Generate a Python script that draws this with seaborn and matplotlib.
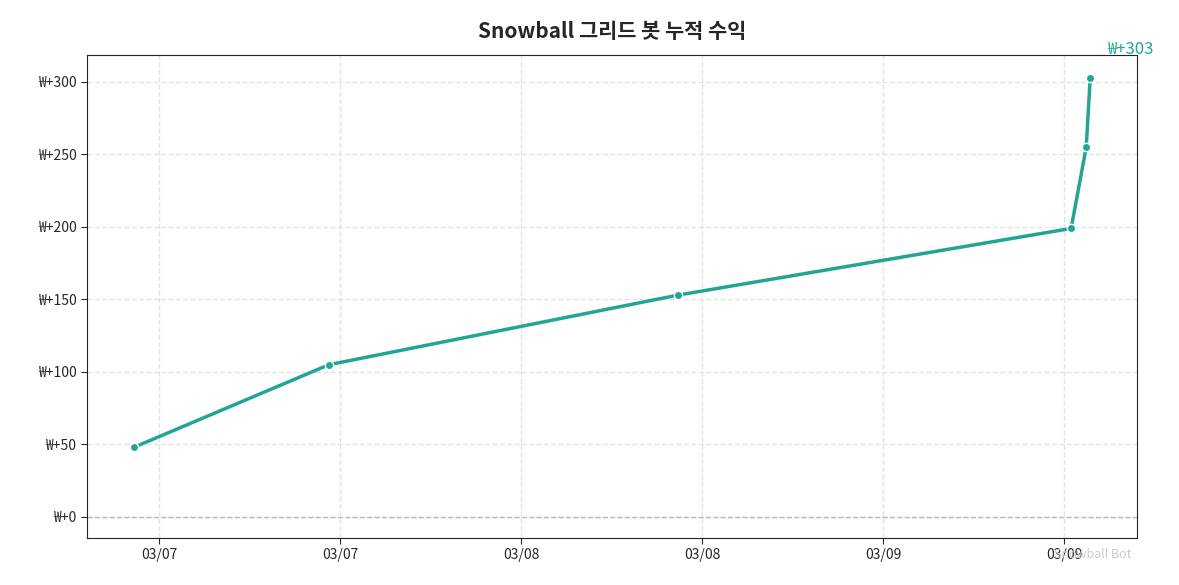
import matplotlib
matplotlib.use("Agg")
import matplotlib.pyplot as plt
import matplotlib.dates as mdates
import seaborn as sns
import pandas as pd

times = ["2025-03-06 22:20", "2025-03-07 11:16", "2025-03-08 10:24",
         "2025-03-09 12:28", "2025-03-09 13:28", "2025-03-09 13:44"]
profits = [48, 105, 153, 199, 255, 303]

sns.set_style("white")
plt.rcParams['font.family'] = ['Noto Sans CJK KR', 'DejaVu Sans']
df = pd.DataFrame({"t": pd.to_datetime(times), "p": profits})
color = "#21a597"

fig = plt.figure(figsize=(11.79, 5.85), dpi=100)
ax = fig.add_axes([87/1179, 1-538/585, (1137-87)/1179, (538-55)/585])
sns.lineplot(data=df, x="t", y="p", ax=ax, color=color, linewidth=2.5,
             marker="o", markersize=6, markeredgecolor="white", markeredgewidth=1)
ax.axhline(0, color="#bbbbbb", linestyle="--", linewidth=1)
ax.grid(True, linestyle="--", color="#e3e3e3", linewidth=1)
ax.set_ylim(-14.5, 318.6)
ax.set_xlim(pd.Timestamp("2025-03-06 19:14"), pd.Timestamp("2025-03-09 16:50"))
ax.xaxis.set_major_locator(mdates.HourLocator(byhour=[0, 12]))
ax.xaxis.set_major_formatter(mdates.DateFormatter("%m/%d"))
ax.set_yticks([0, 50, 100, 150, 200, 250, 300])
ax.set_yticklabels([f"₩+{v}" for v in [0, 50, 100, 150, 200, 250, 300]])
ax.tick_params(labelsize=10, length=4, left=True, bottom=True)
ax.set_xlabel(""); ax.set_ylabel("")
for s in ax.spines.values():
    s.set_color("#222222")
ax.set_title("Snowball 그리드 봇 누적 수익", fontsize=15, fontweight="bold", pad=12)
ax.annotate(f"₩+{profits[-1]}", xy=(df.t.iloc[-1], profits[-1]), xytext=(12, 20),
            textcoords="offset points", color=color, fontsize=12, ha="left", va="center")
ax.text(0.995, -0.02, "Snowball Bot", transform=ax.transAxes, ha="right", va="top",
        fontsize=9, color="#cccccc")
fig.savefig("out.png", dpi=100)
